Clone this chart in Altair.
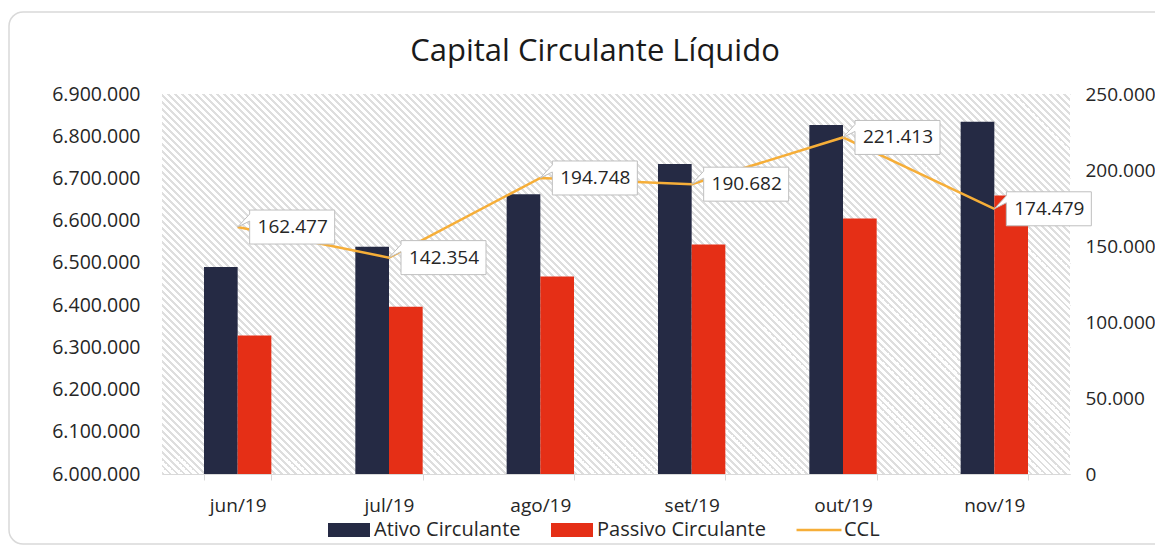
import altair as alt
import pandas as pd

# ---------------- data ----------------
meses = ["jun/19", "jul/19", "ago/19", "set/19", "out/19", "nov/19"]
ativo = [6490300, 6538400, 6662800, 6734000, 6826300, 6834000]
passivo = [6327800, 6396000, 6468000, 6543300, 6604900, 6659500]
ccl = [162477, 142354, 194748, 190682, 221413, 174479]
series = ["Ativo Circulante", "Passivo Circulante", "CCL"]
cores = ["#252A44", "#E52F16", "#F6AE38"]
left_ticks = [6000000, 6100000, 6200000, 6300000, 6400000, 6500000,
              6600000, 6700000, 6800000, 6900000]
right_ticks = [0, 50000, 100000, 150000, 200000, 250000]
titulo = "Capital Circulante Líquido"

# ---------------- layout / style ----------------
W, H = 908, 380
FONT = "Open Sans"
TXT = "#262626"
GRID = "#D9D9D9"

bars_df = pd.DataFrame({
    "mes": meses * 2,
    "serie": [series[0]] * len(meses) + [series[1]] * len(meses),
    "valor": ativo + passivo,
})
line_df = pd.DataFrame({"mes": meses, "ccl": ccl})

color_scale = alt.Scale(domain=series, range=cores)

RECT = "M-1,-0.33H1V0.33H-1Z"
LINE = "M-1.07,-0.055H1.07V0.055H-1.07Z"
CALLOUT = "M0,0L12,-13L12,-17L97,-17L97,17L12,17L12,-6Z"

leg = alt.Legend(orient="none", legendX=166, legendY=415,
                 direction="horizontal", columns=3, title=None)

x_enc = alt.X("mes:N", sort=meses, title=None,
              scale=alt.Scale(paddingInner=0.555, paddingOuter=0.2775),
              axis=alt.Axis(labelAngle=0, tickBand="extent", tickSize=6,
                            domainColor=GRID, tickColor=GRID, labelPadding=16,
                            labelFontSize=19))

# hatch background via a striped linear gradient
k = (W + H) / (W * W + H * H)
P, T = 7.0, 2.4
stops = []
s = -H
def t_of(v):
    return min(max((v + H) / (W + H), 0.0), 1.0)
while s < W:
    a, b = t_of(s), t_of(s + T)
    stops += [alt.GradientStop(offset=a, color="#FFFFFF"),
              alt.GradientStop(offset=a, color="#DEDEDE"),
              alt.GradientStop(offset=b, color="#DEDEDE"),
              alt.GradientStop(offset=b, color="#FFFFFF")]
    s += P
hatch_fill = alt.LinearGradient(gradient="linear", stops=stops,
                                x1=0, y1=1, x2=k * W, y2=1 - k * H)

blank = alt.Data(values=[{}])

border = alt.Chart(blank).mark_rect(
    fill="transparent", stroke="#D9D9D9", strokeWidth=1.5, cornerRadius=14
).encode(x=alt.value(-153), x2=alt.value(1040), y=alt.value(-82), y2=alt.value(450))

hatch = alt.Chart(blank).mark_rect(fill=hatch_fill).encode(
    x=alt.value(0), x2=alt.value(W), y=alt.value(0), y2=alt.value(H))

bars = alt.Chart(bars_df).mark_bar().encode(
    x=x_enc,
    xOffset=alt.XOffset("serie:N", sort=series[:2],
                        scale=alt.Scale(domain=series[:2], paddingInner=0, paddingOuter=0)),
    y=alt.Y("valor:Q", title=None,
            scale=alt.Scale(domain=[6000000, 6900000], zero=False, nice=False),
            axis=alt.Axis(values=left_ticks, format=",d", grid=True, gridColor=GRID,
                          domain=False, ticks=False, labelPadding=22,
                          labelFontSize=19.5)),
    y2=alt.datum(6000000),
    color=alt.Color("serie:N", scale=color_scale, title=None, legend=leg),
)

y_right = alt.Y("ccl:Q", title=None,
                scale=alt.Scale(domain=[0, 250000], nice=False, zero=True),
                axis=alt.Axis(orient="right", values=right_ticks, format=",d",
                              grid=False, domain=False, ticks=False,
                              labelPadding=15, labelFontSize=19))
x_plain = alt.X("mes:N", sort=meses, title=None)

line = alt.Chart(line_df).mark_line(color=cores[2], strokeWidth=2.5).encode(
    x=x_plain, y=y_right)
boxes = alt.Chart(line_df).mark_point(
    shape=CALLOUT, size=4, filled=True, fill="#FFFFFF", stroke="#BFBFBF",
    strokeWidth=1, opacity=1).encode(x=x_plain, y=y_right)
labels = alt.Chart(line_df).mark_text(
    dx=55, fontSize=19, font=FONT, color=TXT, align="center", baseline="middle"
).encode(x=x_plain, y=y_right, text=alt.Text("ccl:Q", format=",d"))

inner = alt.layer(line, boxes, labels)

legend_layer = alt.Chart(pd.DataFrame({"serie": series})).mark_point(
    filled=True, opacity=1, size=0).encode(
    x=alt.value(-500), y=alt.value(-500),
    color=alt.Color("serie:N", scale=color_scale, title=None, legend=leg),
    shape=alt.Shape("serie:N", scale=alt.Scale(domain=series, range=[RECT, RECT, LINE]),
                    title=None, legend=leg),
)

title = alt.Chart(blank).mark_text(
    text=titulo, fontSize=31, font=FONT, color="#1A1A1A", align="center",
    baseline="middle").encode(x=alt.value(433), y=alt.value(-42))

chart = alt.layer(border, hatch, bars, inner, legend_layer, title).resolve_scale(
    y="independent"
).properties(
    width=W, height=H,
    padding={"left": 154, "top": 86, "right": 85, "bottom": 72},
    autosize=alt.AutoSizeParams(type="none"),
).configure(
    locale={"number": {"decimal": ",", "thousands": ".", "grouping": [3],
                       "currency": ["R$", ""]}},
    font=FONT,
).configure_view(stroke=None).configure_axis(
    labelFont=FONT, labelColor=TXT, labelFontSize=19
).configure_legend(
    labelFont=FONT, labelColor=TXT, labelFontSize=20, symbolSize=1764,
    symbolStrokeWidth=0, labelOffset=4, columnPadding=30, symbolOffset=0,
    padding=0, labelLimit=400
)

chart.save("out.html", embed_options={"renderer": "svg", "actions": False})
